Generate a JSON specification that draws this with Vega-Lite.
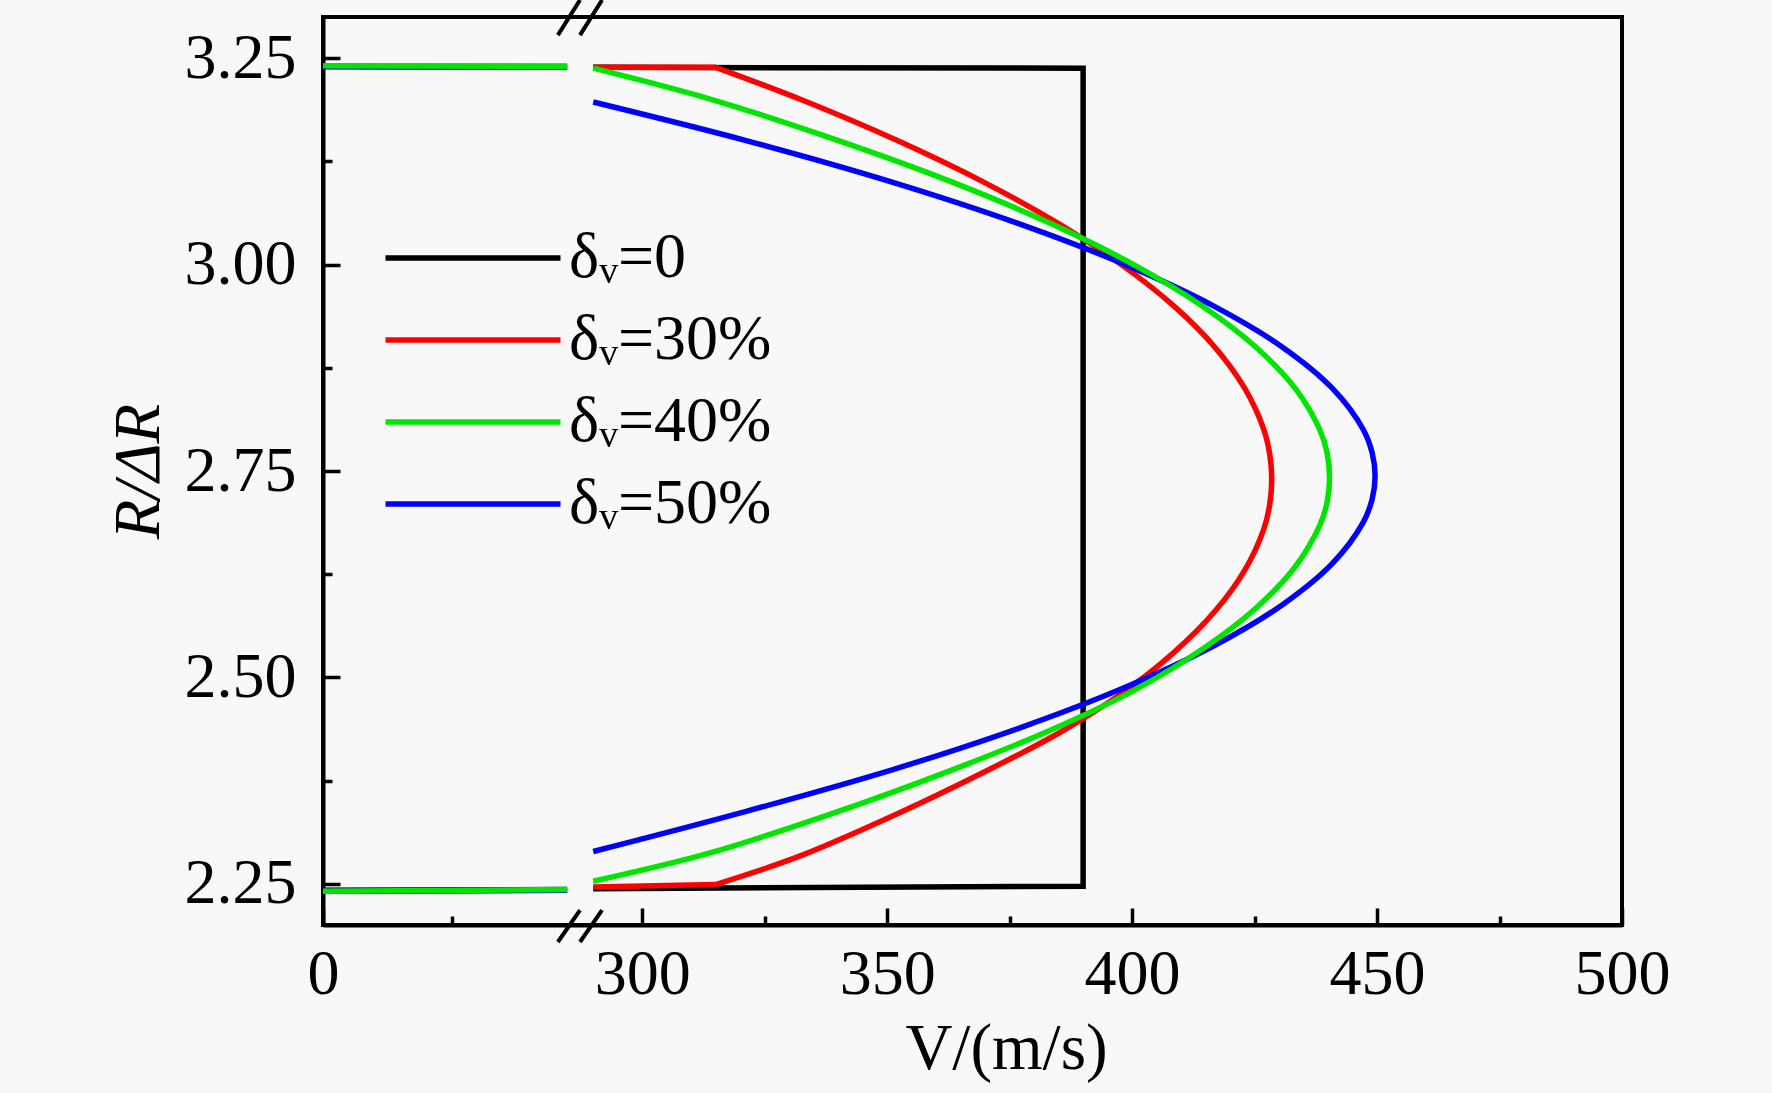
{
  "$schema": "https://vega.github.io/schema/vega-lite/v6.json",
  "width": 1299,
  "height": 908,
  "autosize": "none",
  "padding": {"left": 323, "top": 17, "right": 150, "bottom": 168},
  "background": "#f8f8f8",
  "datasets": {
    "straight": [
      {"s": "δᵥ=0", "g": "t", "i": 0, "v": 0, "r": 3.24},
      {"s": "δᵥ=0", "g": "t", "i": 1, "v": 95, "r": 3.239},
      {"s": "δᵥ=0", "g": "b", "i": 0, "v": 0, "r": 2.242},
      {"s": "δᵥ=0", "g": "b", "i": 1, "v": 95, "r": 2.243},
      {"s": "δᵥ=0", "g": "m", "i": 0, "v": 290, "r": 3.239},
      {"s": "δᵥ=0", "g": "m", "i": 1, "v": 390, "r": 3.238},
      {"s": "δᵥ=0", "g": "m", "i": 2, "v": 390, "r": 2.247},
      {"s": "δᵥ=0", "g": "m", "i": 3, "v": 290, "r": 2.244},
      {"s": "δᵥ=30%", "g": "ft", "i": 0, "v": 290, "r": 3.239},
      {"s": "δᵥ=30%", "g": "ft", "i": 1, "v": 315, "r": 3.239},
      {"s": "δᵥ=30%", "g": "fb", "i": 0, "v": 290, "r": 2.246},
      {"s": "δᵥ=30%", "g": "fb", "i": 1, "v": 315, "r": 2.249}
    ],
    "curves": [
      {"s": "δᵥ=30%", "g": "t", "i": 0, "v": 0, "r": 3.24},
      {"s": "δᵥ=30%", "g": "t", "i": 1, "v": 95, "r": 3.24},
      {"s": "δᵥ=30%", "g": "b", "i": 0, "v": 0, "r": 2.241},
      {"s": "δᵥ=30%", "g": "b", "i": 1, "v": 95, "r": 2.242},
      {"s": "δᵥ=30%", "g": "m", "i": 1, "v": 315, "r": 3.239},
      {"s": "δᵥ=30%", "g": "m", "i": 2, "v": 332.4, "r": 3.2},
      {"s": "δᵥ=30%", "g": "m", "i": 3, "v": 352.2, "r": 3.15},
      {"s": "δᵥ=30%", "g": "m", "i": 4, "v": 369.7, "r": 3.1},
      {"s": "δᵥ=30%", "g": "m", "i": 5, "v": 384.9, "r": 3.05},
      {"s": "δᵥ=30%", "g": "m", "i": 6, "v": 397.8, "r": 3.0},
      {"s": "δᵥ=30%", "g": "m", "i": 7, "v": 408.5, "r": 2.95},
      {"s": "δᵥ=30%", "g": "m", "i": 8, "v": 416.9, "r": 2.9},
      {"s": "δᵥ=30%", "g": "m", "i": 9, "v": 423.0, "r": 2.85},
      {"s": "δᵥ=30%", "g": "m", "i": 10, "v": 426.9, "r": 2.8},
      {"s": "δᵥ=30%", "g": "m", "i": 11, "v": 428.1, "r": 2.77},
      {"s": "δᵥ=30%", "g": "m", "i": 12, "v": 428.5, "r": 2.74},
      {"s": "δᵥ=30%", "g": "m", "i": 13, "v": 428.1, "r": 2.71},
      {"s": "δᵥ=30%", "g": "m", "i": 14, "v": 426.9, "r": 2.68},
      {"s": "δᵥ=30%", "g": "m", "i": 15, "v": 423.0, "r": 2.63},
      {"s": "δᵥ=30%", "g": "m", "i": 16, "v": 416.9, "r": 2.58},
      {"s": "δᵥ=30%", "g": "m", "i": 17, "v": 408.5, "r": 2.53},
      {"s": "δᵥ=30%", "g": "m", "i": 18, "v": 397.8, "r": 2.48},
      {"s": "δᵥ=30%", "g": "m", "i": 19, "v": 384.9, "r": 2.432},
      {"s": "δᵥ=30%", "g": "m", "i": 20, "v": 369.7, "r": 2.385},
      {"s": "δᵥ=30%", "g": "m", "i": 21, "v": 352.2, "r": 2.335},
      {"s": "δᵥ=30%", "g": "m", "i": 22, "v": 332.4, "r": 2.284},
      {"s": "δᵥ=30%", "g": "m", "i": 23, "v": 315, "r": 2.249},

      {"s": "δᵥ=50%", "g": "t", "i": 0, "v": 0, "r": 3.24},
      {"s": "δᵥ=50%", "g": "t", "i": 1, "v": 95, "r": 3.24},
      {"s": "δᵥ=50%", "g": "b", "i": 0, "v": 0, "r": 2.241},
      {"s": "δᵥ=50%", "g": "b", "i": 1, "v": 95, "r": 2.242},
      {"s": "δᵥ=50%", "g": "m", "i": 0, "v": 290, "r": 3.197},
      {"s": "δᵥ=50%", "g": "m", "i": 1, "v": 321.4, "r": 3.15},
      {"s": "δᵥ=50%", "g": "m", "i": 2, "v": 351.0, "r": 3.1},
      {"s": "δᵥ=50%", "g": "m", "i": 3, "v": 376.7, "r": 3.05},
      {"s": "δᵥ=50%", "g": "m", "i": 4, "v": 398.6, "r": 3.0},
      {"s": "δᵥ=50%", "g": "m", "i": 5, "v": 416.6, "r": 2.95},
      {"s": "δᵥ=50%", "g": "m", "i": 6, "v": 430.7, "r": 2.9},
      {"s": "δᵥ=50%", "g": "m", "i": 7, "v": 440.9, "r": 2.85},
      {"s": "δᵥ=50%", "g": "m", "i": 8, "v": 447.2, "r": 2.8},
      {"s": "δᵥ=50%", "g": "m", "i": 9, "v": 449.0, "r": 2.772},
      {"s": "δᵥ=50%", "g": "m", "i": 10, "v": 449.6, "r": 2.744},
      {"s": "δᵥ=50%", "g": "m", "i": 11, "v": 449.0, "r": 2.716},
      {"s": "δᵥ=50%", "g": "m", "i": 12, "v": 447.2, "r": 2.688},
      {"s": "δᵥ=50%", "g": "m", "i": 13, "v": 440.9, "r": 2.638},
      {"s": "δᵥ=50%", "g": "m", "i": 14, "v": 430.7, "r": 2.588},
      {"s": "δᵥ=50%", "g": "m", "i": 15, "v": 416.6, "r": 2.538},
      {"s": "δᵥ=50%", "g": "m", "i": 16, "v": 398.6, "r": 2.488},
      {"s": "δᵥ=50%", "g": "m", "i": 17, "v": 376.7, "r": 2.438},
      {"s": "δᵥ=50%", "g": "m", "i": 18, "v": 351.0, "r": 2.388},
      {"s": "δᵥ=50%", "g": "m", "i": 19, "v": 321.4, "r": 2.338},
      {"s": "δᵥ=50%", "g": "m", "i": 20, "v": 290, "r": 2.289},

      {"s": "δᵥ=40%", "g": "t", "i": 0, "v": 0, "r": 3.241},
      {"s": "δᵥ=40%", "g": "t", "i": 1, "v": 95, "r": 3.24},
      {"s": "δᵥ=40%", "g": "b", "i": 0, "v": 0, "r": 2.241},
      {"s": "δᵥ=40%", "g": "b", "i": 1, "v": 95, "r": 2.243},
      {"s": "δᵥ=40%", "g": "m", "i": 0, "v": 290, "r": 3.238},
      {"s": "δᵥ=40%", "g": "m", "i": 1, "v": 314.2, "r": 3.2},
      {"s": "δᵥ=40%", "g": "m", "i": 2, "v": 340.2, "r": 3.15},
      {"s": "δᵥ=40%", "g": "m", "i": 3, "v": 363.3, "r": 3.1},
      {"s": "δᵥ=40%", "g": "m", "i": 4, "v": 383.3, "r": 3.05},
      {"s": "δᵥ=40%", "g": "m", "i": 5, "v": 400.3, "r": 3.0},
      {"s": "δᵥ=40%", "g": "m", "i": 6, "v": 414.3, "r": 2.95},
      {"s": "δᵥ=40%", "g": "m", "i": 7, "v": 425.3, "r": 2.9},
      {"s": "δᵥ=40%", "g": "m", "i": 8, "v": 433.3, "r": 2.85},
      {"s": "δᵥ=40%", "g": "m", "i": 9, "v": 438.3, "r": 2.8},
      {"s": "δᵥ=40%", "g": "m", "i": 10, "v": 439.8, "r": 2.772},
      {"s": "δᵥ=40%", "g": "m", "i": 11, "v": 440.3, "r": 2.742},
      {"s": "δᵥ=40%", "g": "m", "i": 12, "v": 439.8, "r": 2.712},
      {"s": "δᵥ=40%", "g": "m", "i": 13, "v": 438.3, "r": 2.684},
      {"s": "δᵥ=40%", "g": "m", "i": 14, "v": 433.3, "r": 2.634},
      {"s": "δᵥ=40%", "g": "m", "i": 15, "v": 425.3, "r": 2.584},
      {"s": "δᵥ=40%", "g": "m", "i": 16, "v": 414.3, "r": 2.534},
      {"s": "δᵥ=40%", "g": "m", "i": 17, "v": 400.3, "r": 2.484},
      {"s": "δᵥ=40%", "g": "m", "i": 18, "v": 383.3, "r": 2.436},
      {"s": "δᵥ=40%", "g": "m", "i": 19, "v": 363.3, "r": 2.388},
      {"s": "δᵥ=40%", "g": "m", "i": 20, "v": 340.2, "r": 2.338},
      {"s": "δᵥ=40%", "g": "m", "i": 21, "v": 314.2, "r": 2.288},
      {"s": "δᵥ=40%", "g": "m", "i": 22, "v": 290, "r": 2.253}
    ],
    "breaks": [
      {"k": "top1", "v": 91.4, "r": 3.278},
      {"k": "top1", "v": 100, "r": 3.3206},
      {"k": "top2", "v": 287.3, "r": 3.278},
      {"k": "top2", "v": 291.8, "r": 3.3206},
      {"k": "bot1", "v": 91.4, "r": 2.1794},
      {"k": "bot1", "v": 100, "r": 2.218},
      {"k": "bot2", "v": 287.3, "r": 2.1794},
      {"k": "bot2", "v": 291.8, "r": 2.218}
    ]
  },
  "layer": [
    {
      "data": {"name": "straight"},
      "mark": {"type": "line", "strokeWidth": 5.5, "strokeJoin": "miter"},
      "encoding": {
        "x": {
          "field": "v",
          "type": "quantitative",
          "scale": {"domain": [0, 100, 287.3, 500], "range": [0, 257, 257, 1299], "zero": false, "nice": false},
          "axis": {
            "values": [0, 300, 350, 400, 450, 500],
            "tickSize": -17,
            "labelPadding": 34,
            "labelFlush": false,
            "title": "V/(m/s)",
            "titlePadding": 62,
            "titleBaseline": "alphabetic",
            "titleX": 683
          }
        },
        "y": {
          "field": "r",
          "type": "quantitative",
          "scale": {"domain": [2.2, 3.3], "zero": false, "nice": false},
          "axis": {
            "values": [2.25, 2.5, 2.75, 3.0, 3.25],
            "format": ".2f",
            "tickSize": -17,
            "labelPadding": 44,
            "title": "R/ΔR",
            "titleFontStyle": "italic",
            "titlePadding": 26,
            "titleBaseline": "alphabetic"
          }
        },
        "color": {
          "field": "s",
          "type": "nominal",
          "scale": {
            "domain": ["δᵥ=0", "δᵥ=30%", "δᵥ=40%", "δᵥ=50%"],
            "range": ["#000000", "#ff0000", "#00e600", "#0000ff"]
          },
          "legend": {
            "orient": "none",
            "legendX": 118,
            "legendY": 209,
            "title": null,
            "symbolType": "M-5,0H5",
            "symbolSize": 1225,
            "symbolStrokeWidth": 5.5,
            "labelOffset": 64,
            "labelLimit": 0,
            "rowPadding": 18,
            "padding": 0
          }
        },
        "detail": {"field": "g"},
        "order": {"field": "i"}
      }
    },
    {
      "data": {"name": "curves"},
      "mark": {"type": "line", "strokeWidth": 5.5, "interpolate": "catmull-rom"},
      "encoding": {
        "x": {"field": "v", "type": "quantitative", "axis": null},
        "y": {"field": "r", "type": "quantitative", "axis": null},
        "color": {"field": "s", "type": "nominal"},
        "detail": {"field": "g"},
        "order": {"field": "i"}
      }
    },
    {
      "data": {"name": "breaks"},
      "mark": {"type": "line", "strokeWidth": 4, "color": "#000000", "clip": false},
      "encoding": {
        "x": {
          "field": "v",
          "type": "quantitative",
          "axis": {"values": [50, 325, 375, 425, 475], "tickSize": -9, "labels": false, "domain": false, "title": null, "orient": "bottom"}
        },
        "y": {
          "field": "r",
          "type": "quantitative",
          "axis": {"values": [2.375, 2.625, 2.875, 3.125], "tickSize": -9, "labels": false, "domain": false, "title": null, "orient": "left"}
        },
        "detail": {"field": "k"}
      }
    }
  ],
  "resolve": {"axis": {"x": "independent", "y": "independent"}},
  "config": {
    "view": {"stroke": "#000000", "strokeWidth": 4},
    "font": "Liberation Serif",
    "axis": {
      "grid": false,
      "domainColor": "#000000",
      "domainWidth": 4,
      "tickColor": "#000000",
      "tickWidth": 3.5,
      "labelFont": "Liberation Serif",
      "labelFontSize": 64,
      "labelColor": "#000000",
      "titleFont": "Liberation Serif",
      "titleFontSize": 65,
      "titleFontWeight": "normal",
      "titleColor": "#000000"
    },
    "legend": {
      "labelFont": "Liberation Serif",
      "labelFontSize": 64,
      "labelColor": "#000000"
    }
  }
}
